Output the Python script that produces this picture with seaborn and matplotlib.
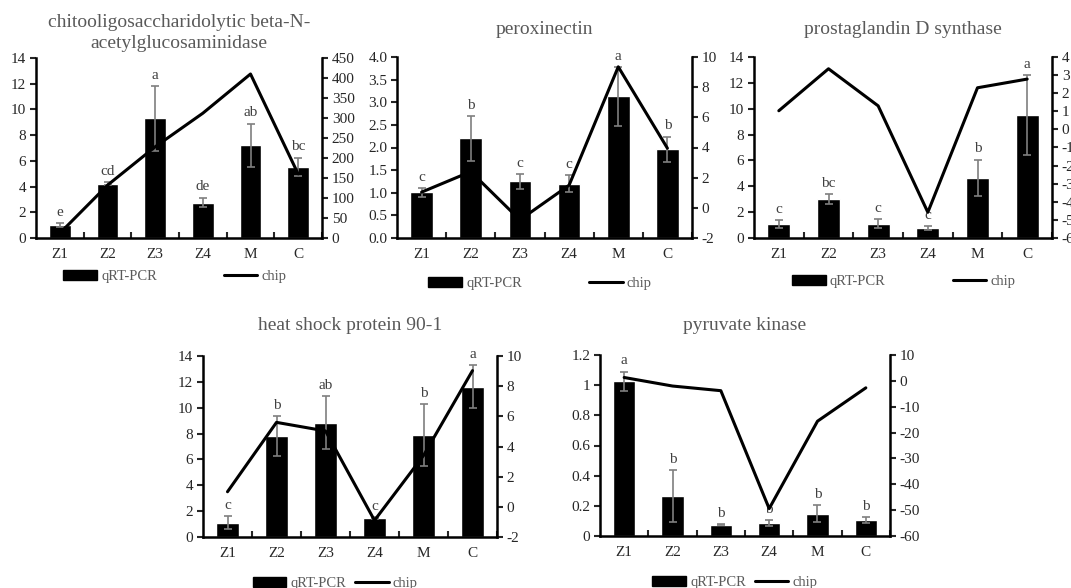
import numpy as np
import pandas as pd
import matplotlib
matplotlib.use('Agg')
import matplotlib.pyplot as plt
import seaborn as sns
from matplotlib.patches import Patch
from matplotlib.lines import Line2D

# categories shared by all panels
cats = ['Z1', 'Z2', 'Z3', 'Z4', 'M', 'C']

# chitooligosaccharidolytic beta-N-acetylglucosaminidase
chito_qpcr = [1.04, 4.22, 9.3, 2.76, 7.2, 5.55]
chito_err = [0.15, 0.1, 2.5, 0.38, 1.7, 0.7]
chito_chip = [12, 132, 228, 312, 410, 160]
chito_sig = ['e', 'cd', 'a', 'de', 'ab', 'bc']

# peroxinectin
perox_qpcr = [1.01, 2.2, 1.25, 1.2, 3.13, 1.96]
perox_err = [0.1, 0.5, 0.17, 0.19, 0.65, 0.28]
perox_chip = [1.04, 2.4, -0.8, 1.5, 9.35, 3.95]
perox_sig = ['c', 'b', 'c', 'c', 'a', 'b']

# prostaglandin D synthase
prost_qpcr = [1.06, 2.99, 1.11, 0.77, 4.64, 9.52]
prost_err = [0.32, 0.38, 0.33, 0.17, 1.43, 3.1]
prost_chip = [1.03, 3.35, 1.3, -4.58, 2.3, 2.78]
prost_sig = ['c', 'bc', 'c', 'c', 'b', 'a']

# heat shock protein 90-1
hsp_qpcr = [1.11, 7.79, 8.82, 1.47, 7.91, 11.63]
hsp_err = [0.5, 1.55, 2.05, 0.1, 2.4, 1.65]
hsp_chip = [1.0, 5.6, 5.03, -0.9, 3.4, 9.03]
hsp_sig = ['c', 'b', 'ab', 'c', 'b', 'a']

# pyruvate kinase
pk_qpcr = [1.025, 0.266, 0.075, 0.085, 0.148, 0.106]
pk_err = [0.065, 0.17, 0.005, 0.02, 0.055, 0.018]
pk_chip = [1.3, -2.0, -3.8, -49.4, -15.6, -2.7]
pk_sig = ['a', 'b', 'b', 'b', 'b', 'b']

panels = [
    # title, qpcr, err, chip, sig, axes rect (px), left lim/step, right lim/step, legend anchor, colspacing, fmt, title offset
    ('chitooligosaccharidolytic beta-N-\nacetylglucosaminidase', chito_qpcr, chito_err, chito_chip, chito_sig,
     [36, 58, 286, 180], (0, 14, 2), (0, 450, 50), (0.486, -0.215), 4.6, '{:.0f}', 25),
    ('peroxinectin', perox_qpcr, perox_err, perox_chip, perox_sig,
     [397, 57, 295, 181], (0, 4.0, 0.5), (-2, 10, 2), (0.485, -0.25), 4.6, '{:.1f}', 28),
    ('prostaglandin D synthase', prost_qpcr, prost_err, prost_chip, prost_sig,
     [754, 57, 298, 181], (0, 14, 2), (-6, 4, 1), (0.503, -0.24), 4.6, '{:.0f}', 28),
    ('heat shock protein 90-1', hsp_qpcr, hsp_err, hsp_chip, hsp_sig,
     [203, 356, 294, 181], (0, 14, 2), (-2, 10, 2), (0.45, -0.255), 0.6, '{:.0f}', 30),
    ('pyruvate kinase', pk_qpcr, pk_err, pk_chip, pk_sig,
     [600, 355, 290, 181], (0, 1.2, 0.2), (-60, 10, 10), (0.466, -0.255), 0.6, '{:g}', 30),
]

sns.set_style('white')
plt.rcParams['font.family'] = ['Liberation Serif', 'DejaVu Serif']
plt.rcParams['axes.unicode_minus'] = False

W, H = 1071, 588
fig = plt.figure(figsize=(W / 100, H / 100), dpi=100)

txt_gray = '#595959'
fs = 11
for title, qpcr, err, chip, sig, rect, llim, rlim, leg_anchor, colsp, lfmt, toff in panels:
    x0, y0, w, h = rect
    ax = fig.add_axes([x0 / W, 1 - (y0 + h) / H, w / W, h / H])
    df = pd.DataFrame({'cat': cats, 'qpcr': qpcr, 'err': err, 'chip': chip})
    sns.barplot(data=df, x='cat', y='qpcr', color='black', width=0.46,
                errorbar=None, ax=ax, saturation=1)
    pos = np.arange(len(cats))
    ax.errorbar(pos, df['qpcr'], yerr=df['err'], fmt='none', ecolor='#7f7f7f',
                elinewidth=1.2, capsize=3, capthick=1.2, zorder=3)
    for p, v, e, s in zip(pos, df['qpcr'], df['err'], sig):
        ax.annotate(s, (p, v + e), xytext=(0, 3), textcoords='offset points',
                    ha='center', va='bottom', fontsize=fs, color='#404040')

    ax.set_xlim(-0.5, len(cats) - 0.5)
    ax.set_ylim(llim[0], llim[1])
    ax.set_yticks(np.arange(llim[0], llim[1] + llim[2] / 2, llim[2]))
    ax.set_yticklabels([lfmt.format(t) for t in ax.get_yticks()])
    ax.set_xlabel('')
    ax.set_ylabel('')
    ax.set_xticks(pos + 0.5, minor=True)
    ax.tick_params(axis='x', which='major', length=0, labelsize=fs, pad=7)
    ax.tick_params(axis='x', which='minor', length=4, width=1.5, direction='in', bottom=True)
    ax.tick_params(axis='y', which='major', length=4, width=1.5, direction='out', left=True,
                   labelsize=fs, pad=3)
    for sp in ['top', 'right']:
        ax.spines[sp].set_visible(False)
    for sp in ['left', 'bottom']:
        ax.spines[sp].set_linewidth(1.8)
        ax.spines[sp].set_color('black')

    ax2 = ax.twinx()
    sns.lineplot(x=pos, y=df['chip'], color='black', linewidth=2.2, ax=ax2)
    ax2.set_ylim(rlim[0], rlim[1])
    ax2.set_yticks(np.arange(rlim[0], rlim[1] + rlim[2] / 2, rlim[2]))
    ax2.set_yticklabels(['{:g}'.format(t) for t in ax2.get_yticks()])
    ax2.set_ylabel('')
    ax2.tick_params(axis='y', length=4, width=1.5, direction='out', right=True,
                    labelsize=fs, pad=3)
    for sp in ['top', 'left', 'bottom']:
        ax2.spines[sp].set_visible(False)
    ax2.spines['right'].set_linewidth(1.8)
    ax2.spines['right'].set_color('black')
    ax2.set_xlim(-0.5, len(cats) - 0.5)

    ax.text(0.5, 1.0 + toff / h, title, transform=ax.transAxes,
            ha='center', va='center', fontsize=14, color=txt_gray, linespacing=1.25)

    handles = [Patch(facecolor='black', edgecolor='black'),
               Line2D([0], [0], color='black', linewidth=2.2)]
    leg = ax.legend(handles, ['qRT-PCR', 'chip'], loc='center', bbox_to_anchor=leg_anchor,
                    ncol=2, frameon=False, fontsize=10.5, handlelength=2.3, handleheight=0.7,
                    handletextpad=0.3, columnspacing=colsp)
    for t in leg.get_texts():
        t.set_color(txt_gray)

fig.savefig('out.png', dpi=100)
